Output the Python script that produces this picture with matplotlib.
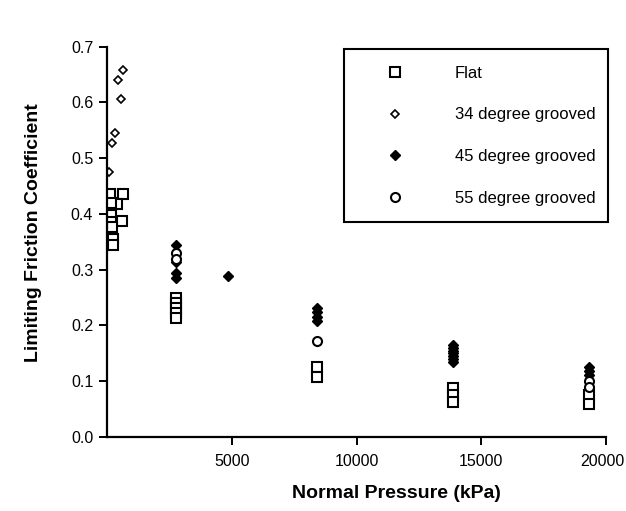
import matplotlib
matplotlib.use("Agg")
import matplotlib.pyplot as plt
import matplotlib.transforms as mtransforms
from matplotlib.lines import Line2D

plt.rcParams['font.family'] = ['Liberation Sans', 'DejaVu Sans']

# Flat
flat_x = [130, 650, 400, 160, 600, 160, 160, 190, 230, 230,
          2760, 2760, 2760, 2760, 2760,
          8400, 8400,
          13850, 13850, 13850,
          19300, 19300]
flat_y = [0.436, 0.436, 0.417, 0.419, 0.387, 0.398, 0.386, 0.377, 0.356, 0.344,
          0.250, 0.240, 0.232, 0.222, 0.213,
          0.125, 0.107,
          0.088, 0.075, 0.063,
          0.075, 0.060]

# 34 degree grooved
d34_x = [630, 430, 560, 330, 190, 90]
d34_y = [0.659, 0.640, 0.606, 0.546, 0.527, 0.476]

# 45 degree grooved
d45_x = [2760, 2760, 2760, 2760, 4840,
         8400, 8400, 8400, 8400,
         13850, 13850, 13850, 13850, 13850, 13850, 13850,
         19300, 19300, 19300]
d45_y = [0.345, 0.313, 0.295, 0.285, 0.289,
         0.232, 0.225, 0.215, 0.208,
         0.165, 0.160, 0.155, 0.150, 0.145, 0.140, 0.135,
         0.125, 0.118, 0.112]

# 55 degree grooved
d55_x = [2760, 2760, 8400, 19300, 19300]
d55_y = [0.330, 0.320, 0.172, 0.100, 0.090]

x_ticks = [5000, 10000, 15000, 20000]
y_ticks = [0.0, 0.1, 0.2, 0.3, 0.4, 0.5, 0.6, 0.7]

fig = plt.figure(figsize=(6.26, 5.11), dpi=100)
ax = fig.add_axes([0.171, 0.1448, 0.797, 0.7638])

ax.plot(flat_x, flat_y, linestyle='none', marker='s', markersize=7.5,
        markerfacecolor='white', markeredgecolor='black', markeredgewidth=1.5)
ax.plot(d34_x, d34_y, linestyle='none', marker='D', markersize=4.5,
        markerfacecolor='white', markeredgecolor='black', markeredgewidth=1.2)
ax.plot(d45_x, d45_y, linestyle='none', marker='D', markersize=5,
        markerfacecolor='black', markeredgecolor='black', markeredgewidth=1.0)
ax.plot(d55_x, d55_y, linestyle='none', marker='o', markersize=6.5,
        markerfacecolor='white', markeredgecolor='black', markeredgewidth=1.5)

ax.set_xlim(0, 20000)
ax.set_ylim(0, 0.7)
ax.set_xticks(x_ticks)
ax.set_xticklabels([str(t) for t in x_ticks])
ax.set_yticks(y_ticks)
ax.set_yticklabels([f"{t:.1f}" for t in y_ticks])

for s in ['top', 'right']:
    ax.spines[s].set_visible(False)
for s in ['left', 'bottom']:
    ax.spines[s].set_linewidth(1.6)
ax.tick_params(axis='both', direction='out', length=6, width=1.4,
               labelsize=11.5, pad=4)
ax.tick_params(axis='x', pad=6)

# keep the last x tick label inside the figure edge
last = ax.get_xticklabels()[-1]
last.set_transform(last.get_transform() +
                   mtransforms.ScaledTranslation(-4 / 100, 0, fig.dpi_scale_trans))

ax.set_xlabel('Normal Pressure (kPa)', fontsize=14, fontweight='bold')
ax.xaxis.set_label_coords((396 - 107) / 499, -(485 - 437) / 390.3)
ax.set_ylabel('Limiting Friction Coefficient', fontsize=14, fontweight='bold')
ax.yaxis.set_label_coords(-(107 - 42) / 499, (437 - 233) / 390.3)

handles = [
    Line2D([], [], linestyle='none', marker='s', markersize=7, markerfacecolor='white',
           markeredgecolor='black', markeredgewidth=1.5),
    Line2D([], [], linestyle='none', marker='D', markersize=4.5, markerfacecolor='white',
           markeredgecolor='black', markeredgewidth=1.2),
    Line2D([], [], linestyle='none', marker='D', markersize=5, markerfacecolor='black',
           markeredgecolor='black'),
    Line2D([], [], linestyle='none', marker='o', markersize=6.5, markerfacecolor='white',
           markeredgecolor='black', markeredgewidth=1.5),
]
labels = ['Flat', '34 degree grooved', '45 degree grooved', '55 degree grooved']
leg = ax.legend(handles, labels, loc='upper left',
                bbox_to_anchor=((344 - 107) / 499, 1 - (225 - 46.7) / 390.3,
                                (608 - 344) / 499, (225 - 49) / 390.3),
                mode='expand', fancybox=False, framealpha=1, edgecolor='black',
                fontsize=12, handletextpad=1.54, borderpad=1.0, labelspacing=1.6,
                borderaxespad=0, handlelength=4.1)
leg.get_frame().set_linewidth(1.5)

fig.savefig('out.png', dpi=100)
